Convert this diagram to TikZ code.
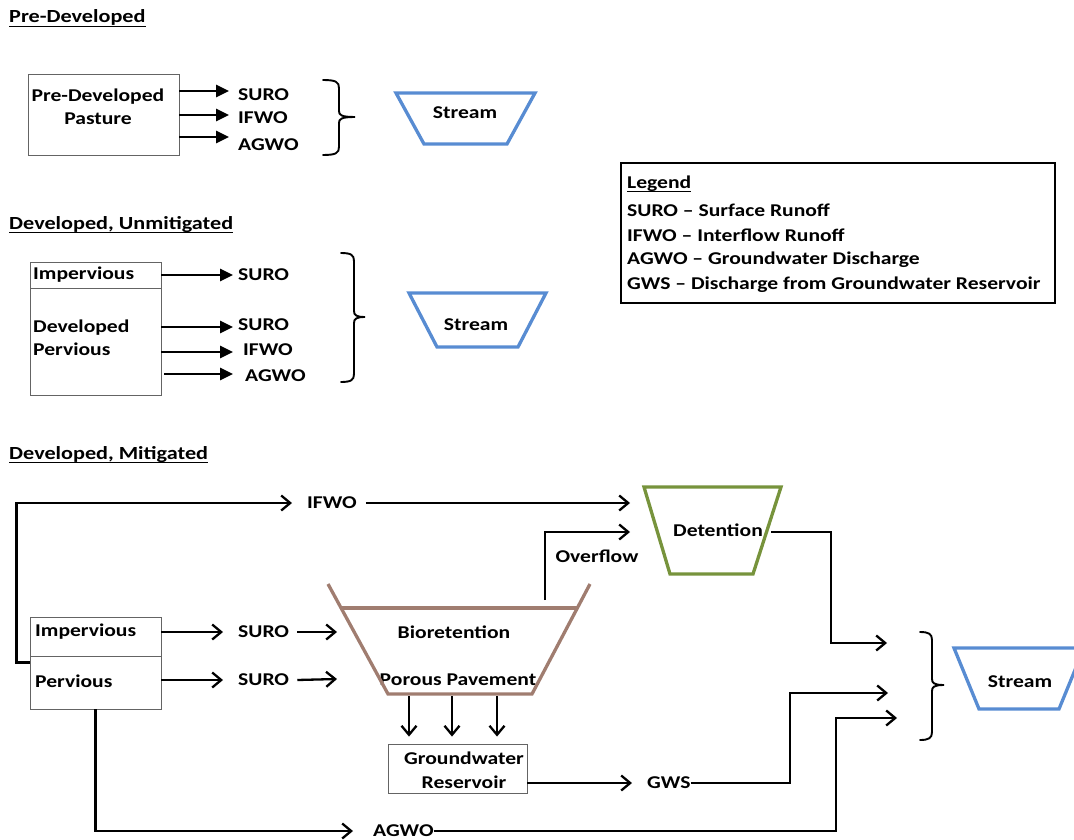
\documentclass[tikz,border=0pt]{standalone}
\usepackage{fontspec}
\setmainfont{Carlito}[FakeStretch=1.2]
\usetikzlibrary{arrows.meta}
\definecolor{streamblue}{RGB}{88,140,210}
\definecolor{detgreen}{RGB}{119,147,60}
\definecolor{biobrown}{RGB}{160,125,112}
\definecolor{boxgray}{RGB}{100,100,100}
\newcommand\drawbrace[6]{%
\draw[bracefig] (#1,#4) .. controls ({#2-3},#4) and (#2,{#4+2}) .. (#2,{#4+8}) -- (#2,{#5-6}) .. controls (#2,{#5-2}) and ({#2+2},#5) .. (#3,#5) .. controls ({#2+2},#5) and (#2,{#5+2}) .. (#2,{#5+6}) -- (#2,{#6-8}) .. controls (#2,{#6-2}) and ({#2-3},#6) .. (#1,#6);}
\begin{document}
\begin{tikzpicture}[x=1pt,y=-1pt,
  txt/.style={font=\fontsize{18}{23}\selectfont\bfseries, inner sep=0pt},
  lbl/.style={txt, anchor=west},
  hdr/.style={font=\fontsize{18.5}{20}\selectfont\bfseries, inner sep=0pt, anchor=base west},
  area/.style={draw=boxgray, line width=0.9pt, inner sep=0pt},
  fillarrow/.style={line width=2.8pt, -{Triangle[length=13pt,width=12pt]}},
  openarrow/.style={line width=2.3pt, -{Straight Barb[length=9pt,width=15pt]}},
  bracefig/.style={line width=1.9pt, line cap=round},
  trap/.style={line width=3.3pt, line join=miter},
  uline/.style={line width=1.3pt},
]
\useasboundingbox (0,0) rectangle (1074,840);

% ---------- Section 1 ----------
\node[hdr] (h1) at (9,23) {Pre-Developed};
\draw[uline] ([yshift=-3.5pt]h1.base west) -- ([yshift=-3.5pt]h1.base east);
\node[area, minimum width=151pt, minimum height=81pt] (pdbox) at (103.5,114.5) {};
\node[txt, align=center] (pdtext) at (98,107) {Pre-Developed\\Pasture};
\node[lbl] (suro1) at (238,95) {SURO};
\node[lbl] (ifwo1) at (238,118) {IFWO};
\node[lbl] (agwo1) at (238,145) {AGWO};
\coordinate (p1a) at (229,91);
\coordinate (p1b) at (229,115);
\coordinate (p1c) at (229,137);
\draw[fillarrow] (pdbox.east |- p1a) -- (p1a);
\draw[fillarrow] (pdbox.east |- p1b) -- (p1b);
\draw[fillarrow] (pdbox.east |- p1c) -- (p1c);
\drawbrace{323}{339}{355}{80}{117}{155}
\draw[trap, streamblue] (396,93) -- (535,93) -- (507,144) -- (424,144) -- cycle;
\node[txt] (stream1) at (465,113) {Stream};

% ---------- Section 2 ----------
\node[hdr] (h2) at (9,229) {Developed, Unmitigated};
\draw[uline] ([yshift=-3.5pt]h2.base west) -- ([yshift=-3.5pt]h2.base east);
\node[area, minimum width=131pt, minimum height=26pt] (imp2) at (95.5,275) {};
\node[area, minimum width=131pt, minimum height=107pt] (perv2) at (95.5,341.5) {};
\node[lbl] (imp2t) at (33,275) {Impervious};
\node[lbl, align=left] (perv2t) at (33,338) {Developed\\Pervious};
\node[lbl] (suro2a) at (238,275) {SURO};
\node[lbl] (suro2b) at (238,325) {SURO};
\node[lbl] (ifwo2) at (243,350) {IFWO};
\begin{scope}
\clip (236,360) rectangle (310,381);
\node[lbl] (agwo2) at (245,376) {AGWO};
\end{scope}
\coordinate (p2a) at (233,275);
\coordinate (p2b) at (233,327);
\coordinate (p2c) at (233,352);
\coordinate (p2d) at (233,374);
\coordinate (p2ds) at (164,374);
\draw[fillarrow] (imp2.east) -- (p2a);
\draw[fillarrow] (perv2.east |- p2b) -- (p2b);
\draw[fillarrow] (perv2.east |- p2c) -- (p2c);
\draw[fillarrow] (p2ds) -- (p2d);
\drawbrace{341}{354}{365}{253}{317}{382}
\draw[trap, streamblue] (409,293) -- (546,293) -- (518,347) -- (437,347) -- cycle;
\node[txt] (stream2) at (476,325) {Stream};

% ---------- Legend ----------
\node[draw, line width=1.8pt, minimum width=434pt, minimum height=140pt, inner sep=0pt] (legend) at (838,233) {};
\node[lbl] (legt) at (627,184) {Legend};
\draw[uline] ([yshift=-3pt]legt.base west) -- ([yshift=-3pt]legt.base east);
\node[lbl] (leg1) at (627,210) {SURO – Surface Runoff};
\node[lbl] (leg2) at (627,235) {IFWO – Interflow Runoff};
\node[lbl] (leg3) at (627,260) {AGWO – Groundwater Discharge};
\node[lbl] (leg4) at (627,285) {GWS – Discharge from Groundwater Reservoir};

% ---------- Section 3 ----------
\node[hdr] (h3) at (9,459) {Developed, Mitigated};
\draw[uline] ([yshift=-3.5pt]h3.base west) -- ([yshift=-3.5pt]h3.base east);
\node[area, minimum width=131pt, minimum height=39pt] (imp3) at (95.5,636.5) {};
\node[area, minimum width=131pt, minimum height=53pt] (perv3) at (95.5,682.5) {};
\node[lbl] (imp3t) at (35,632) {Impervious};
\node[lbl] (perv3t) at (35,681) {Pervious};

\node[lbl] (ifwo3) at (307,503) {IFWO};
\node[lbl] (suro3a) at (238,632) {SURO};
\node[lbl] (suro3b) at (238,680) {SURO};
\node[txt] (bio) at (454,632) {Bioretention};
\node[txt] (porous) at (458,680) {Porous Pavement};
\node[txt] (overflow) at (597,556) {Overflow};
\node[txt] (det) at (718,530) {Detention};
\node[area, minimum width=139pt, minimum height=49pt] (gwbox) at (457.5,768.5) {};
\node[txt, align=center, font=\fontsize{18}{24}\selectfont\bfseries] (gwtext) at (464,770) {Groundwater\\Reservoir};
\node[lbl] (gws) at (647,783) {GWS};
\node[lbl] (agwo3) at (373,831) {AGWO};
\node[txt] (stream3) at (1020,682) {Stream};

% shapes
\draw[trap, biobrown] (328,584) -- (388,694) -- (532,694) -- (590,584);
\draw[trap, biobrown] (341,608) -- (577,608);
\draw[trap, detgreen] (644,487) -- (781,487) -- (753,574) -- (670,574) -- cycle;
\begin{scope}
\clip (0,0) rectangle (1074,840);
\draw[trap, streamblue] (954,648) -- (1084,648) -- (1059,709) -- (979,709) -- cycle;
\end{scope}
\drawbrace{920}{932}{944}{632}{685}{740}

% connectors
\coordinate (ifwoin) at (292,503);
\coordinate (detin1) at (630,503);
\coordinate (detin2) at (630,532);
\coordinate (ovst) at (545,600);
\coordinate (bioin1) at (337,632);
\coordinate (bioin2) at (337,679);
\coordinate (detout) at (771,532);
\coordinate (j1) at (831,643);
\coordinate (s3a) at (887,643);
\coordinate (j2) at (790,693);
\coordinate (s3b) at (888,693);
\coordinate (j3) at (836,718);
\coordinate (s3c) at (897,718);

\draw[openarrow] ([yshift=-7pt]perv3.north west) -- ++(-13,0) |- (ifwoin);
\draw[openarrow] ([xshift=9pt]ifwo3.east) -- (detin1);
\draw[openarrow] (imp3.east |- suro3a) -- ([xshift=-15pt]suro3a.west);
\draw[openarrow] (perv3.east |- suro3b) -- ([xshift=-15pt]suro3b.west);
\draw[openarrow] ([xshift=8pt]suro3a.east) -- (bioin1);
\draw[openarrow] ([xshift=8pt]suro3b.east) -- (bioin2);
\draw[openarrow] (ovst) |- (detin2);
\draw[openarrow] (detout) -| (j1) -- (s3a);
\foreach \xx/\nm in {409/a,452/b,497/c} {
  \coordinate (dtop\nm) at (\xx,696);
  \draw[openarrow, shorten >=7pt] (dtop\nm) -- (dtop\nm |- gwbox.north);
}
\draw[openarrow] (gwbox.east |- gws) -- ([xshift=-15pt]gws.west);
\draw[openarrow] (gws.east) -| (j2) -- (s3b);
\draw[openarrow] (perv3.south) |- ([xshift=-20pt]agwo3.west);
\draw[openarrow] (agwo3.east) -| (j3) -- (s3c);
\end{tikzpicture}
\end{document}
